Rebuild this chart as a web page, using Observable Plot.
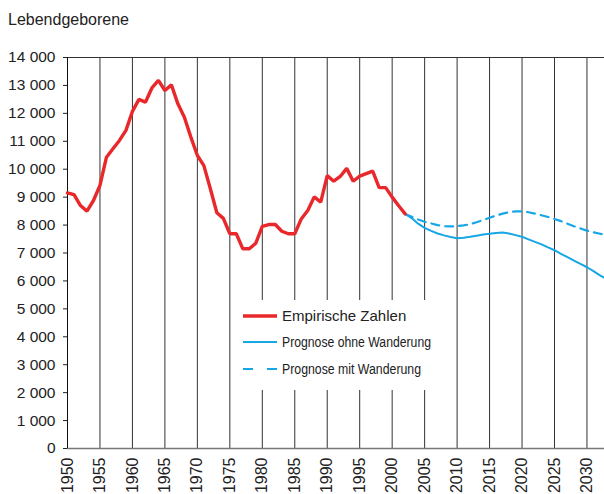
<!DOCTYPE html>
<html><head><meta charset="utf-8">
<script src="https://cdn.jsdelivr.net/npm/d3@7"></script>
<script src="https://cdn.jsdelivr.net/npm/@observablehq/plot@0.6"></script>
<style>
body{margin:0;background:#fff;font-family:"Liberation Sans",Arial,sans-serif;}
#title{height:40px;box-sizing:border-box;padding:11px 0 0 8px;font-size:16px;color:#222;line-height:normal;}
#chart svg{display:block;}
</style></head><body>
<div id="title">Lebendgeborene</div>
<div id="chart"></div>
<script>
const empYears = [1950,1951,1952,1953,1954,1955,1956,1957,1958,1959,1960,1961,1962,1963,1964,1965,1966,1967,1968,1969,1970,1971,1972,1973,1974,1975,1976,1977,1978,1979,1980,1981,1982,1983,1984,1985,1986,1987,1988,1989,1990,1991,1992,1993,1994,1995,1996,1997,1998,1999,2000,2001,2002];
const empValues = [9150,9090,8700,8500,8880,9420,10430,10730,11030,11390,12070,12500,12400,12910,13180,12820,13020,12340,11860,11150,10490,10130,9300,8440,8240,7690,7690,7150,7150,7350,7950,8020,8020,7780,7690,7690,8220,8520,9010,8820,9770,9570,9740,10030,9570,9750,9840,9930,9340,9340,9000,8690,8400];
const progYears = [2002,2003,2004,2005,2006,2007,2008,2009,2010,2011,2012,2013,2014,2015,2016,2017,2018,2019,2020,2021,2022,2023,2024,2025,2026,2027,2028,2029,2030,2031,2032,2033];
const ohneValues = [8400,8250,8050,7900,7790,7700,7630,7570,7530,7550,7580,7620,7660,7690,7720,7730,7700,7640,7580,7490,7400,7310,7200,7100,6970,6850,6730,6610,6490,6350,6200,6070];
const mitValues = [8400,8300,8200,8120,8060,8000,7960,7950,7960,7990,8030,8100,8180,8260,8340,8410,8460,8490,8490,8460,8410,8350,8290,8220,8140,8050,7960,7880,7800,7740,7690,7640];
const xTicks = [1950,1955,1960,1965,1970,1975,1980,1985,1990,1995,2000,2005,2010,2015,2020,2025,2030];
const gridYears = [1955,1960,1965,1970,1975,1980,1985,1990,1995,2000,2005,2010,2015,2020,2025,2030];
const yTicks = [0,1000,2000,3000,4000,5000,6000,7000,8000,9000,10000,11000,12000,13000,14000];
const legendLabels = ["Empirische Zahlen","Prognose ohne Wanderung","Prognose mit Wanderung"];

const RED = "#e8282b", BLUE = "#17a6e6";
const emp = empYears.map((y,i)=>({year:y, value:empValues[i]}));
const ohne = progYears.map((y,i)=>({year:y, value:ohneValues[i]}));
const mit = progYears.map((y,i)=>({year:y, value:mitValues[i]}));

const plot = Plot.plot({
  width: 604, height: 454,
  marginLeft: 67, marginRight: 0, marginTop: 17, marginBottom: 46,
  style: {fontFamily: '"Liberation Sans", Arial, sans-serif', color: "#222", background: "#fff", overflow: "visible"},
  x: {domain: [1950, 2032.7]},
  y: {domain: [0, 14000]},
  marks: [
    Plot.ruleX(gridYears, {stroke: "#333", strokeWidth: 1}),
    Plot.ruleY([14000], {stroke: "#333", strokeWidth: 1}),
    Plot.ruleY([0], {stroke: "#777", strokeWidth: 1.6}),
    Plot.ruleX([1950], {stroke: "#111", strokeWidth: 1}),
    Plot.axisY({ticks: yTicks, tickSize: 4, tickPadding: 8, fontSize: 15.5, label: null,
      tickFormat: d => d3.format(",")(d).replace(/,/g, " ")}),
    Plot.axisX({ticks: xTicks, tickSize: 0, tickPadding: 9, tickRotate: -90, fontSize: 16, label: null,
      tickFormat: d => String(d)}),
    Plot.line(mit, {x: "year", y: "value", stroke: BLUE, strokeWidth: 2.2, strokeDasharray: "8,6"}),
    Plot.line(ohne, {x: "year", y: "value", stroke: BLUE, strokeWidth: 2}),
    Plot.line(emp, {x: "year", y: "value", stroke: RED, strokeWidth: 3.4, strokeLinejoin: "miter"})
  ]
});
document.getElementById("chart").appendChild(plot);

// legend (box interrupts gridlines)
const svg = d3.select(plot);
const top0 = 40; // svg offset below title
const g = svg.append("g").attr("text-anchor", "start");
g.append("rect").attr("x", 232).attr("y", 300 - top0).attr("width", 218).attr("height", 90).attr("fill", "#fff");
const items = [
  {y: 316, stroke: RED, w: 3.4, dash: null, size: 15, len: null},
  {y: 342, stroke: BLUE, w: 2, dash: null, size: 14, len: 149},
  {y: 369, stroke: BLUE, w: 2.2, dash: "10,14", size: 14, len: 139}
];
items.forEach((it, i) => {
  const yy = it.y - top0;
  const l = g.append("line").attr("x1", 243).attr("x2", 277).attr("y1", yy).attr("y2", yy)
    .attr("stroke", it.stroke).attr("stroke-width", it.w);
  if (it.dash) l.attr("stroke-dasharray", it.dash);
  const t = g.append("text").attr("x", 282).attr("y", yy).attr("dy", "0.35em")
    .attr("text-anchor", "start")
    .attr("font-size", it.size).attr("fill", "#222").text(legendLabels[i]);
  if (it.len) t.attr("textLength", it.len).attr("lengthAdjust", "spacingAndGlyphs");
});
</script>
</body></html>
